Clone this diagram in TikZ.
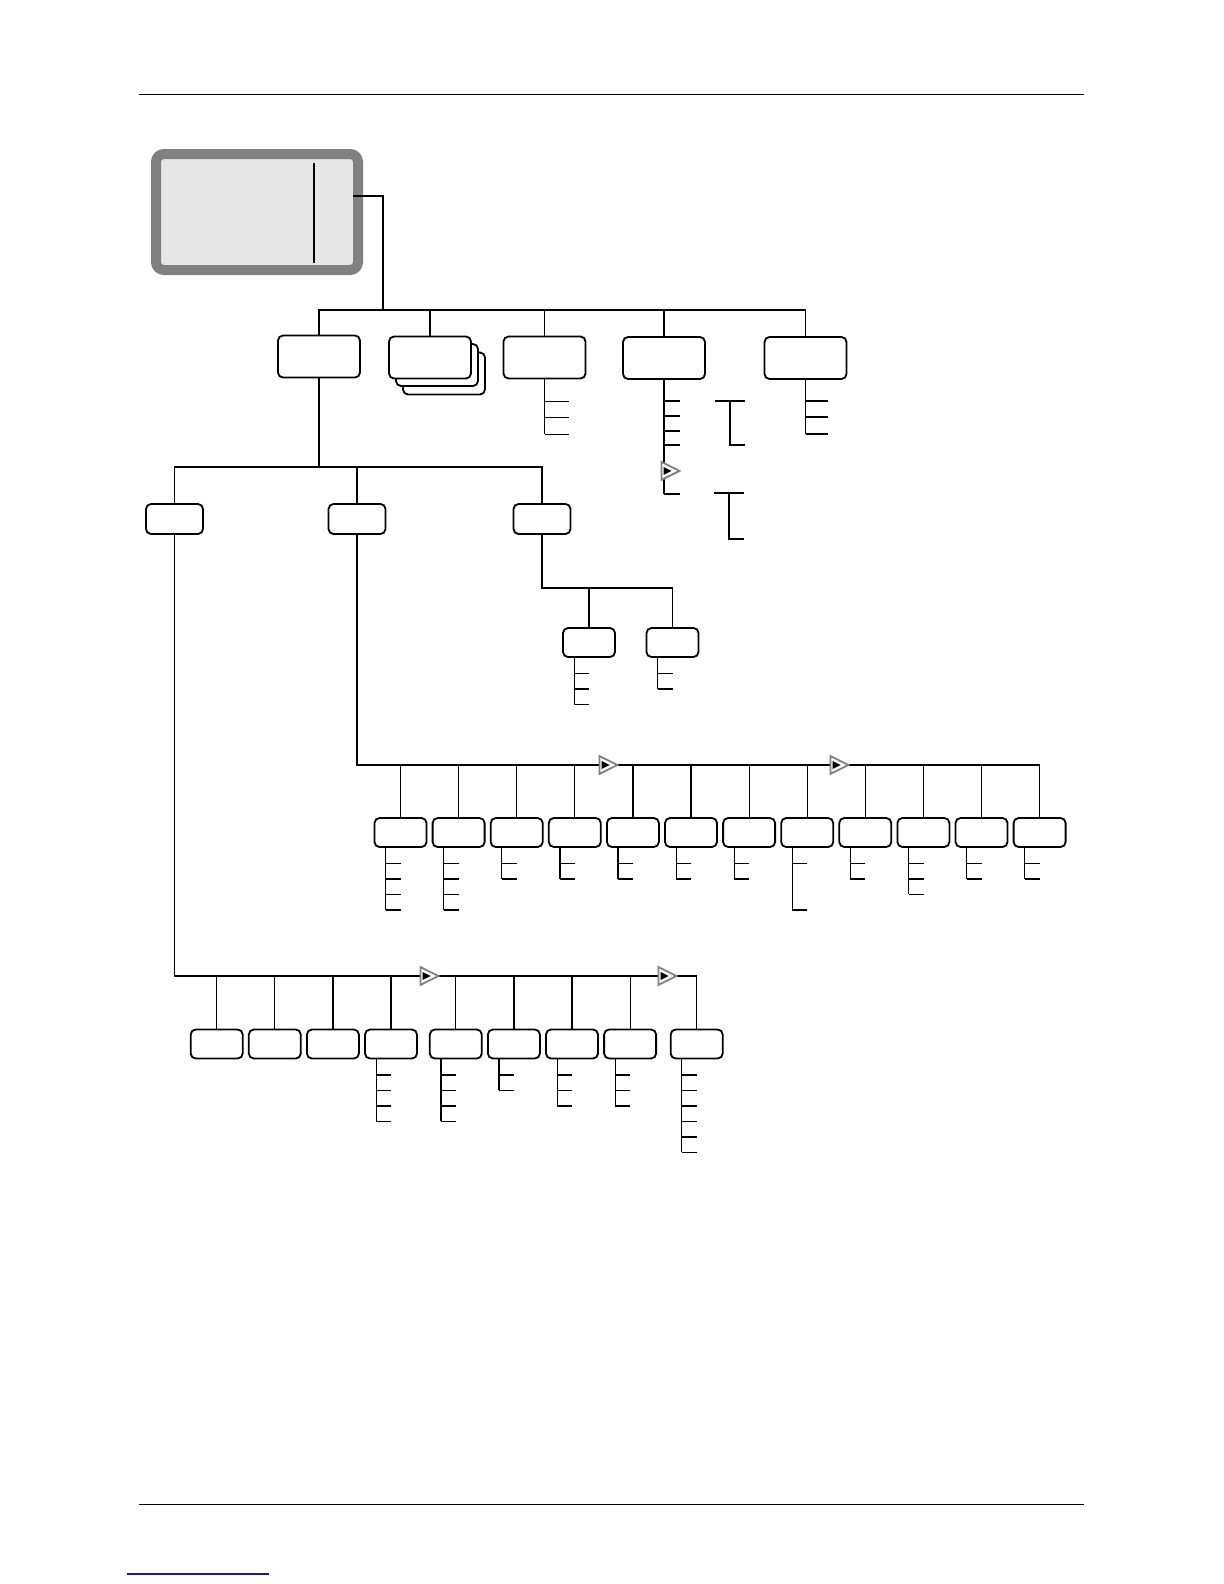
\documentclass[tikz,border=0pt]{standalone}
\usepackage{xcolor}
\usepackage{tikz}
\usetikzlibrary{positioning,calc,shapes.geometric}
\definecolor{panelgray}{HTML}{808080}
\definecolor{panelfill}{HTML}{E6E6E6}
\definecolor{linkblue}{HTML}{1A1A96}
\tikzset{
  menubox/.style={draw=black,rounded corners=2.5pt,fill=white,line width=0.9pt,
    minimum width=41pt,minimum height=21pt,inner sep=0pt},
  subbox/.style={menubox,minimum width=28.5pt,minimum height=15pt},
  leafbox/.style={menubox,minimum width=26pt,minimum height=14.5pt},
  menuline/.style={draw=black,line width=0.75pt},
  tickline/.style={draw=black,line width=0.6pt},
  pagerule/.style={draw=black,line width=0.5pt},
  marker/.style={isosceles triangle,isosceles triangle stretches,draw=gray,line width=0.9pt,
    fill=white,minimum width=9pt,minimum height=9pt,inner sep=0pt},
  markerdot/.style={isosceles triangle,isosceles triangle stretches,fill=black,
    minimum width=4pt,minimum height=4pt,inner sep=0pt}
}

\begin{document}
\begin{tikzpicture}[x=0.5pt,y=-0.5pt,node distance=2.15pt]
  \useasboundingbox (0,0) rectangle (1224,1584);
  \fill[white] (0,0) rectangle (1224,1584);
  % page rules
  \draw[pagerule] (139,95) -- (1084,95);
  \draw[pagerule] (139,1504) -- (1084,1504);
  \draw[linkblue,line width=0.6pt] (127,1574) -- (269,1574);
  % display panel
  \node[draw=panelgray,line width=5pt,fill=panelfill,rounded corners=4pt,
    minimum width=101pt,minimum height=58pt] (panel) at (257,212) {};
  \draw[black,line width=0.8pt] (314,163) -- (314,263);
  % main menu
  \coordinate (top) at (383,310);
  \node[menubox] (b1) at (319,356.5) {};
  \node[menubox] (b2c) at (444,373.5) {};
  \node[menubox] (b2b) at (437,365) {};
  \node[menubox] (b2) at (430,357.5) {};
  \node[menubox] (b3) at (544.5,357.5) {};
  \node[menubox] (b4) at (664,358) {};
  \node[menubox] (b5) at (805.5,358) {};
  \draw[menuline] ([xshift=-5pt,yshift=8pt]panel.east) -| (top);
  \draw[menuline] (b1.north) |- (b5.north |- top) -- (b5.north);
  \foreach \b in {b2,b3,b4} \draw[menuline] (\b.north) -- (\b.north |- top);
  % items under the main menu
  \draw[tickline] (b3.south) -- ++(0,55);
  \foreach \t in {22,38,55} \draw[tickline] ($(b3.south)+(0,\t)$) -- ++(24,0);
  \draw[tickline] (b4.south) -- ++(0,114);
  \foreach \t in {21,36,51,65,114} \draw[tickline] ($(b4.south)+(0,\t)$) -- ++(16,0);
  \node[marker] (mk0) at ($(b4.south)+(3,91)$) {};
  \node[markerdot] at ($(mk0.center)+(-1,0)$) {};
  \draw[tickline] (715,401) -- (745,401) (730,401) |- (745,445);
  \draw[tickline] (714,493) -- (744,493) (729,493) |- (744,539);
  \draw[tickline] (b5.south) -- ++(0,54);
  \foreach \t in {21,37,54} \draw[tickline] ($(b5.south)+(0,\t)$) -- ++(22,0);
  % second level
  \coordinate (mid) at (0,467);
  \node[subbox] (A) at (174.5,519) {};
  \node[subbox] (B) at (357,519) {};
  \node[subbox] (C) at (542,519) {};
  \draw[menuline] (b1.south) -- (b1.south |- mid);
  \draw[menuline] (A.north) |- (C.north |- mid) -- (C.north);
  \draw[menuline] (B.north) -- (B.north |- mid);
  % branch C
  \coordinate (cbus) at (0,588);
  \node[leafbox] (c1) at (589,642.5) {};
  \node[leafbox] (c2) at (672.5,642.5) {};
  \draw[tickline] (C.south) |- (c2.north |- cbus) -- (c2.north);
  \draw[tickline] (c1.north) -- (c1.north |- cbus);
  % branch B
  \coordinate (busB) at (0,765);
  \node[leafbox] (r1) at (400.5,832.5) {};
  \node[leafbox,right=of r1] (r2) {};
  \node[leafbox,right=of r2] (r3) {};
  \node[leafbox,right=of r3] (r4) {};
  \node[leafbox,right=of r4] (r5) {};
  \node[leafbox,right=of r5] (r6) {};
  \node[leafbox,right=of r6] (r7) {};
  \node[leafbox,right=of r7] (r8) {};
  \node[leafbox,right=of r8] (r9) {};
  \node[leafbox,right=of r9] (r10) {};
  \node[leafbox,right=of r10] (r11) {};
  \node[leafbox,right=of r11] (r12) {};
  \draw[tickline] (B.south) |- (r12.north |- busB) -- (r12.north);
  \foreach \b in {r1,r2,r3,r4,r5,r6,r7,r8,r9,r10,r11}
    \draw[tickline] (\b.north) -- (\b.north |- busB);
  \node[marker] (mk1) at (605,765) {};
  \node[markerdot] at ($(mk1.center)+(-1,0)$) {};
  \node[marker] (mk2) at (836,765) {};
  \node[markerdot] at ($(mk2.center)+(-1,0)$) {};
  % branch A
  \coordinate (busA) at (0,976);
  \node[leafbox] (q1) at (216.7,1044) {};
  \node[leafbox,right=of q1] (q2) {};
  \node[leafbox,right=of q2] (q3) {};
  \node[leafbox,right=of q3] (q4) {};
  \node[leafbox,right=5.5pt of q4] (q5) {};
  \node[leafbox,right=of q5] (q6) {};
  \node[leafbox,right=of q6] (q7) {};
  \node[leafbox,right=of q7] (q8) {};
  \node[leafbox,right=6.4pt of q8] (q9) {};
  \draw[menuline] (A.south) |- (q9.north |- busA) -- (q9.north);
  \foreach \b in {q1,q2,q3,q4,q5,q6,q7,q8}
    \draw[tickline] (\b.north) -- (\b.north |- busA);
  \node[marker] (mk3) at (426,976) {};
  \node[markerdot] at ($(mk3.center)+(-1,0)$) {};
  \node[marker] (mk4) at (664,976) {};
  \node[markerdot] at ($(mk4.center)+(-1,0)$) {};
  % leaf items
  \foreach \b/\last/\ticks in {c1/3/{1,2,3},c2/2/{1,2},
      r1/4/{1,2,3,4},r2/4/{1,2,3,4},r3/2/{1,2},r4/2/{1,2},r5/2/{1,2},r6/2/{1,2},
      r7/2/{1,2},r8/4/{1,4},r9/2/{1,2},r10/3/{1,2,3},r11/2/{1,2},r12/2/{1,2},
      q4/4/{1,2,3,4},q5/4/{1,2,3,4},q6/2/{1,2},q7/3/{1,2,3},q8/3/{1,2,3},q9/6/{1,...,6}}{
    \draw[tickline] ([xshift=6pt]\b.south west) -- ++(0,15.5*\last);
    \foreach \t in \ticks
      \draw[tickline] ($([xshift=6pt]\b.south west)+(0,15.5*\t)$) -- ++(15,0);
  }
\end{tikzpicture}
\end{document}
